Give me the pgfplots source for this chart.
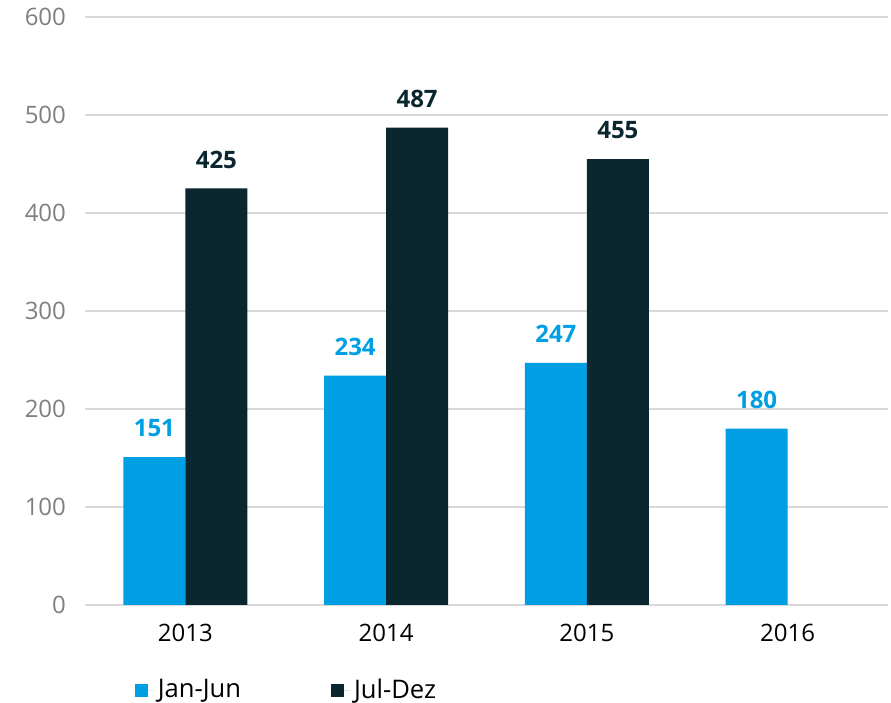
\documentclass[border=0pt]{standalone}
\usepackage{fontspec}
\setmainfont{Open Sans}
\usepackage{pgfplots}
\pgfplotsset{compat=1.18}
\definecolor{cblue}{HTML}{009FE3}
\definecolor{cdark}{HTML}{0A2730}
\definecolor{cgrid}{HTML}{D9D9D9}
\definecolor{ctick}{HTML}{7F7F7F}
\begin{document}
\begin{tikzpicture}
\begin{axis}[
  name=ax,
  scale only axis,
  width=401.5pt, height=294pt,
  ybar=0pt, bar width=31pt,
  xmin=-0.5, xmax=3.5,
  ymin=0, ymax=600,
  ytick={0,100,...,600},
  xtick={0,1,2,3},
  xticklabels={2013,2014,2015,2016},
  axis line style={draw=none},
  major tick length=0pt,
  ymajorgrids, grid style={cgrid, line width=0.8pt},
  /pgf/number format/assume math mode=true,
  tick label style={font=\fontsize{12}{14}\selectfont},
  yticklabel style={text=ctick, xshift=-6pt},
  xticklabel style={text=black, yshift=-6pt},
  nodes near coords,
  every node near coord/.append style={font=\fontsize{12}{14}\selectfont\bfseries, yshift=6.5pt},
  legend style={draw=none, at={(0.054,-0.145)}, anchor=west, legend columns=2,
    font=\fontsize{12.8}{15}\selectfont, /tikz/every even column/.append style={column sep=43pt}},
  legend image code/.code={\fill[#1] (0pt,-3.2pt) rectangle (6.5pt,3.3pt); \path (0pt,0pt) -- (9.5pt,0pt);},
]
\addplot[fill=cblue, draw=none, every node near coord/.append style={text=cblue}] coordinates {(0,151) (1,234) (2,247) (3,180)};
\addlegendentry{Jan-Jun}
\addplot[fill=cdark, draw=none, every node near coord/.append style={text=cdark}] coordinates {(0,425) (1,487) (2,455)};
\addlegendentry{Jul-Dez}
\end{axis}
\pgfresetboundingbox
\path ([xshift=-42.5pt,yshift=-49pt]ax.south west) rectangle ([xshift=1.5pt,yshift=8.5pt]ax.north east);
\end{tikzpicture}
\end{document}
